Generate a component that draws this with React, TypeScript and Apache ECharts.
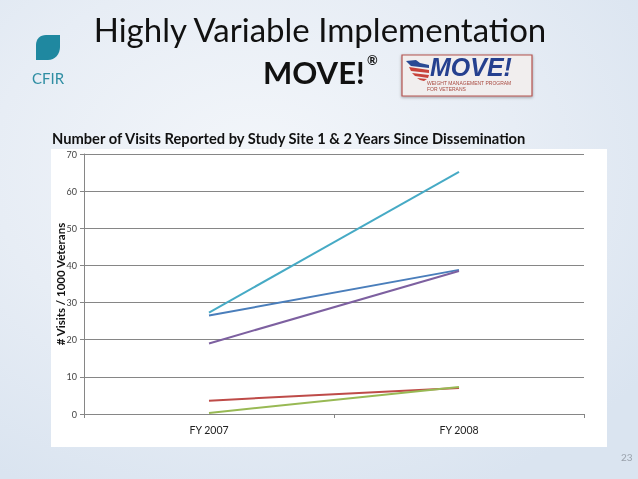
import React, { useEffect, useRef } from "react";
import * as echarts from "echarts";

const categories = ["FY 2007", "FY 2008"];
const site1 = [26.5, 38.8];
const site2 = [3.6, 7.0];
const site3 = [0.3, 7.3];
const site4 = [19.0, 38.5];
const site5 = [27.3, 65.2];
const seriesList = [site1, site2, site3, site4, site5];
const colors = ["#4A7EBB", "#BE4B48", "#98B954", "#7D60A0", "#46AAC5"];

const leaf = "M10 0 L24 0 L24 12 C24 19 19 25 12 25 L0 25 L0 10 C0 4 4 0 10 0 Z";
echarts.graphic.registerShape("cfirLeaf", echarts.graphic.extendPath(leaf, {}) as any);

const font = "Lato, 'Open Sans', sans-serif";
const logoFont = "'Liberation Sans', Arial, sans-serif";

export default function App() {
  const ref = useRef<HTMLDivElement>(null);
  useEffect(() => {
    const chart = echarts.init(ref.current!, null, { renderer: "svg" });
    chart.setOption({
      animation: false,
      backgroundColor: new echarts.graphic.RadialGradient(0.4, 0.35, 0.75, [
        { offset: 0, color: "#f3f6fa" },
        { offset: 0.55, color: "#e7edf5" },
        { offset: 1, color: "#dae4f0" },
      ]),
      title: [
        { text: "Highly Variable Implementation", left: 320, top: 12, padding: 0, textAlign: "center",
          textStyle: { fontFamily: font, fontSize: 33, fontWeight: "normal", color: "#111" } },
        { text: "MOVE!", left: 263, top: 56, padding: 0, textStyle: { fontFamily: font, fontSize: 31, fontWeight: "bold", color: "#111" } },
        { text: "®", left: 367, top: 53, padding: 0, textStyle: { fontFamily: font, fontSize: 13, fontWeight: "bold", color: "#111" } },
        { text: "CFIR", left: 32, top: 70, padding: 0, textStyle: { fontFamily: font, fontSize: 15, fontWeight: "normal", color: "#2f8ea3" } },
        { text: "Number of Visits Reported by Study Site 1 & 2 Years Since Dissemination", left: 52, top: 130, padding: 0,
          textStyle: { fontFamily: font, fontSize: 14.7, fontWeight: "bold", color: "#111" } },
        { text: "23", left: 621, top: 452, padding: 0, textStyle: { fontFamily: font, fontSize: 10, fontWeight: "normal", color: "#9aa2ac" } },
      ],
      graphic: [
        { type: "rect", z: -1, shape: { x: 51, y: 149, width: 556, height: 298 }, style: { fill: "#fff" } },
        { type: "cfirLeaf", x: 36, y: 35, style: { fill: "#1f88a0" } },
        { type: "rect", shape: { x: 402, y: 55, width: 130, height: 41 },
          style: { fill: "#f1eeee", stroke: "#b4544f", lineWidth: 1.2, shadowBlur: 3, shadowColor: "rgba(0,0,0,.35)", shadowOffsetY: 1 } },
        { type: "polygon", shape: { points: [[406, 61], [416, 60], [420, 63], [429, 65], [429, 68], [411, 66]] }, style: { fill: "#2a4a94" } },
        { type: "polygon", shape: { points: [[409, 67], [429, 70], [429, 73], [411, 71]] }, style: { fill: "#c8433a" } },
        { type: "polygon", shape: { points: [[412, 73], [429, 75], [428, 78], [415, 76]] }, style: { fill: "#c8433a" } },
        { type: "polygon", shape: { points: [[417, 78], [427, 79], [424, 81], [420, 80]] }, style: { fill: "#c8433a" } },
        { type: "text", x: 430, y: 54, style: { text: "MOVE!", fontFamily: logoFont, fontSize: 25, fontWeight: "bold", fontStyle: "italic", fill: "#25408f" } },
        { type: "text", x: 427, y: 80.5, style: { text: "WEIGHT MANAGEMENT PROGRAM", fontFamily: logoFont, fontSize: 5, fill: "#a8493f" } },
        { type: "text", x: 427, y: 86, style: { text: "FOR VETERANS", fontFamily: logoFont, fontSize: 5, fill: "#a8493f" } },
      ],
      grid: { left: 84, right: 54, top: 154, bottom: 65 },
      xAxis: {
        type: "category", data: categories, boundaryGap: true,
        axisLine: { lineStyle: { color: "#868686", width: 1 } },
        axisTick: { show: true, length: 4, alignWithLabel: false, lineStyle: { color: "#868686" } },
        axisLabel: { fontFamily: font, fontSize: 10.5, color: "#222", margin: 10 },
      },
      yAxis: {
        type: "value", min: 0, max: 70, interval: 10,
        name: "# Visits / 1000 Veterans", nameLocation: "middle", nameGap: 18, nameMoveOverlap: false,
        nameTextStyle: { fontFamily: font, fontSize: 11.5, fontWeight: "bold", color: "#111" },
        axisLine: { show: true, lineStyle: { color: "#868686", width: 1 } },
        axisTick: { show: true, length: 4, lineStyle: { color: "#868686" } },
        axisLabel: { fontFamily: font, fontSize: 9, color: "#444", margin: 7 },
        splitLine: { lineStyle: { color: "#868686", width: 1 } },
      },
      series: seriesList.map((data, i) => ({
        type: "line", data, symbol: "none", silent: true,
        lineStyle: { color: colors[i], width: 2 },
      })),
    });
    return () => chart.dispose();
  }, []);
  return <div ref={ref} style={{ position: "fixed", left: 0, top: 0, width: 638, height: 479 }} />;
}
